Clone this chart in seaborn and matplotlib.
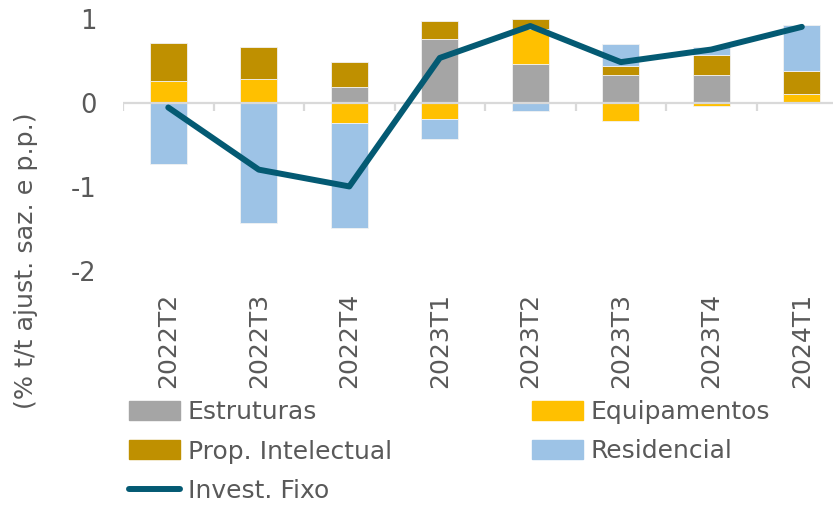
import numpy as np
import pandas as pd
import matplotlib
matplotlib.use("Agg")
import matplotlib.pyplot as plt
import seaborn as sns
from matplotlib.patches import Patch
from matplotlib.lines import Line2D

# Dados (contribuições, p.p.)
trimestres = ["2022T2", "2022T3", "2022T4", "2023T1", "2023T2", "2023T3", "2023T4", "2024T1"]
estruturas = [0.0, 0.0, 0.19, 0.77, 0.47, 0.34, 0.34, 0.0]
equipamentos = [0.265, 0.29, -0.24, -0.19, 0.42, -0.21, -0.035, 0.11]
prop_intelectual = [0.455, 0.38, 0.30, 0.21, 0.11, 0.10, 0.23, 0.28]
residencial = [-0.72, -1.43, -1.24, -0.23, -0.09, 0.26, 0.10, 0.54]
invest_fixo = [-0.05, -0.79, -0.99, 0.54, 0.92, 0.49, 0.64, 0.91]

series = {
    "Estruturas": (estruturas, "#A5A5A5"),
    "Equipamentos": (equipamentos, "#FFC000"),
    "Prop. Intelectual": (prop_intelectual, "#BF9000"),
    "Residencial": (residencial, "#9DC3E6"),
}
cor_linha = "#045A73"
cinza_txt = "#595959"

sns.set_theme(style="white")
plt.rcParams["font.family"] = ["DejaVu Sans"]

fig = plt.figure(figsize=(8.33, 5.05), dpi=100)
ax = fig.add_axes([0.1477, 0.4628, 0.8692, 0.499])

x = np.arange(len(trimestres))
pos_base = np.zeros(len(x))
neg_base = np.zeros(len(x))
for nome, (vals, cor) in series.items():
    v = np.array(vals)
    base = np.where(v >= 0, pos_base, neg_base)
    ax.bar(x, v, bottom=base, width=0.41, color=cor, edgecolor="#F2F2F2", linewidth=0.6)
    pos_base += np.where(v >= 0, v, 0)
    neg_base += np.where(v < 0, v, 0)

df_linha = pd.DataFrame({"x": x, "Invest. Fixo": invest_fixo})
sns.lineplot(data=df_linha, x="x", y="Invest. Fixo", ax=ax, color=cor_linha, linewidth=4.3,
             solid_capstyle="round", zorder=5)

# linha do zero com marcas entre categorias
ax.axhline(0, color="#D9D9D9", linewidth=1.6, zorder=1)
ax.vlines(np.arange(len(x) + 1) - 0.5, -0.095, 0, color="#D9D9D9", linewidth=1.6, zorder=1)

ax.set_xlim(-0.5, len(x) - 0.5)
ax.set_ylim(-2, 1)
ax.set_yticks([-2, -1, 0, 1])
ax.set_yticklabels(["-2", "-1", "0", "1"])
ax.set_xticks(x)
ax.set_xticklabels(trimestres, rotation=90)
ax.tick_params(axis="x", length=0, pad=15.5, labelsize=18, labelcolor=cinza_txt)
ax.tick_params(axis="y", length=0, pad=19, labelsize=18.5, labelcolor=cinza_txt)
for s in ax.spines.values():
    s.set_visible(False)
ax.set_xlabel("")
ax.set_ylabel("")

fig.text(0.031, 1 - 261 / 505, "(% t/t ajust. saz. e p.p.)", rotation=90, ha="center", va="center",
         fontsize=18.3, color=cinza_txt)

handles = [
    Patch(color=series["Estruturas"][1], label="Estruturas"),
    Patch(color=series["Prop. Intelectual"][1], label="Prop. Intelectual"),
    Line2D([0], [0], color=cor_linha, linewidth=4.3, solid_capstyle="round", label="Invest. Fixo"),
    Patch(color=series["Equipamentos"][1], label="Equipamentos"),
    Patch(color=series["Residencial"][1], label="Residencial"),
]
leg = fig.legend(handles=handles, ncol=2, loc="upper left", bbox_to_anchor=(0.155, 1 - 400 / 505),
                 frameon=False, fontsize=18, handlelength=2.05, handleheight=0.8,
                 handletextpad=0.3, columnspacing=5.6, labelspacing=0.62, borderaxespad=0, borderpad=0)
for t in leg.get_texts():
    t.set_color(cinza_txt)

fig.savefig("out.png", dpi=100)
